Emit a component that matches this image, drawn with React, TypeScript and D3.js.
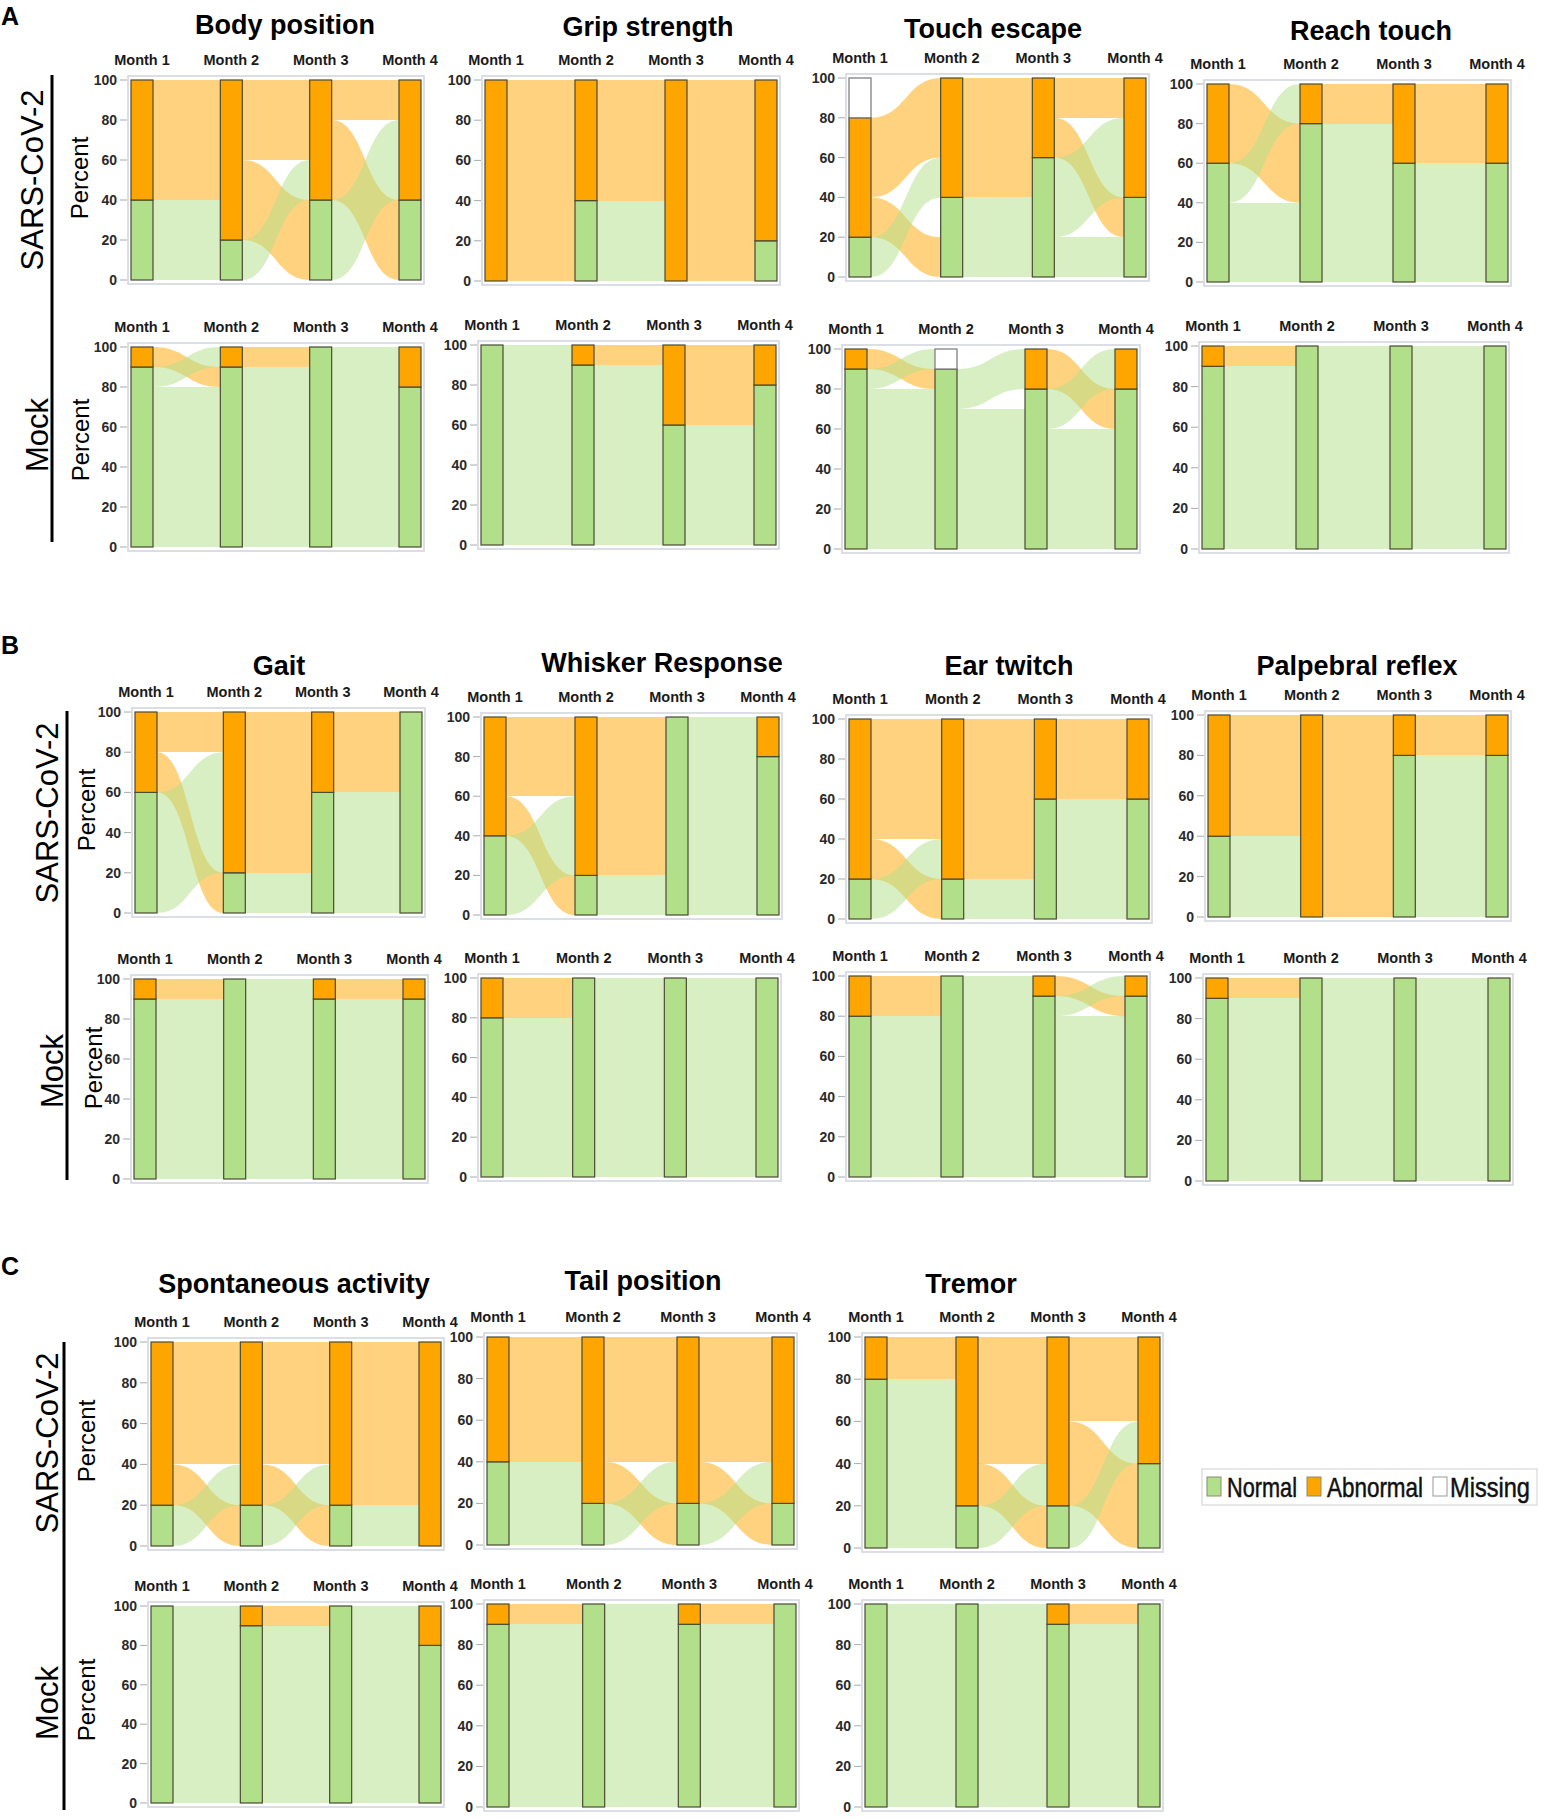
import React from "react";
import * as d3 from "d3";

// categories, bottom to top of each stacked bar
const CATS = ["N", "A", "M"];
const CAT_LABELS = ["Normal", "Abnormal", "Missing"];
const COLORS: Record<string, string> = { N: "#B2DF8A", A: "#FFA500", M: "#FFFFFF" };
const MONTHS = ["Month 1", "Month 2", "Month 3", "Month 4"];
const Y_TICKS = [0, 20, 40, 60, 80, 100];

// transitions month k -> k+1 : [from, to, percent]
// A - SARS-CoV-2
const bodyPositionSars = [
  [["N", "N", 20], ["N", "A", 20], ["A", "A", 60]],
  [["N", "A", 20], ["A", "N", 40], ["A", "A", 40]],
  [["N", "A", 40], ["A", "N", 40], ["A", "A", 20]]
];
const gripStrengthSars = [
  [["A", "N", 40], ["A", "A", 60]],
  [["N", "A", 40], ["A", "A", 60]],
  [["A", "N", 20], ["A", "A", 80]]
];
const touchEscapeSars = [
  [["N", "A", 20], ["A", "N", 20], ["A", "A", 40], ["M", "N", 20]],
  [["N", "N", 40], ["A", "N", 20], ["A", "A", 40]],
  [["N", "N", 20], ["N", "A", 40], ["A", "N", 20], ["A", "A", 20]]
];
const reachTouchSars = [
  [["N", "N", 40], ["N", "A", 20], ["A", "N", 40]],
  [["N", "N", 60], ["N", "A", 20], ["A", "A", 20]],
  [["N", "N", 60], ["A", "A", 40]]
];
// A - Mock
const bodyPositionMock = [
  [["N", "N", 80], ["N", "A", 10], ["A", "N", 10]],
  [["N", "N", 90], ["A", "N", 10]],
  [["N", "N", 80], ["N", "A", 20]]
];
const gripStrengthMock = [
  [["N", "N", 90], ["N", "A", 10]],
  [["N", "N", 60], ["N", "A", 30], ["A", "A", 10]],
  [["N", "N", 60], ["A", "N", 20], ["A", "A", 20]]
];
const touchEscapeMock = [
  [["N", "N", 80], ["N", "M", 10], ["A", "N", 10]],
  [["N", "N", 70], ["N", "A", 20], ["M", "N", 10]],
  [["N", "N", 60], ["N", "A", 20], ["A", "N", 20]]
];
const reachTouchMock = [
  [["N", "N", 90], ["A", "N", 10]],
  [["N", "N", 100]],
  [["N", "N", 100]]
];
// B - SARS-CoV-2
const gaitSars = [
  [["N", "A", 60], ["A", "N", 20], ["A", "A", 20]],
  [["N", "N", 20], ["A", "N", 40], ["A", "A", 40]],
  [["N", "N", 60], ["A", "N", 40]]
];
const whiskerSars = [
  [["N", "A", 40], ["A", "N", 20], ["A", "A", 40]],
  [["N", "N", 20], ["A", "N", 80]],
  [["N", "N", 80], ["N", "A", 20]]
];
const earTwitchSars = [
  [["N", "A", 20], ["A", "N", 20], ["A", "A", 60]],
  [["N", "N", 20], ["A", "N", 40], ["A", "A", 40]],
  [["N", "N", 60], ["A", "A", 40]]
];
const palpebralSars = [
  [["N", "A", 40], ["A", "A", 60]],
  [["A", "N", 80], ["A", "A", 20]],
  [["N", "N", 80], ["A", "A", 20]]
];
// B - Mock
const gaitMock = [
  [["N", "N", 90], ["A", "N", 10]],
  [["N", "N", 90], ["N", "A", 10]],
  [["N", "N", 90], ["A", "A", 10]]
];
const whiskerMock = [
  [["N", "N", 80], ["A", "N", 20]],
  [["N", "N", 100]],
  [["N", "N", 100]]
];
const earTwitchMock = [
  [["N", "N", 80], ["A", "N", 20]],
  [["N", "N", 90], ["N", "A", 10]],
  [["N", "N", 80], ["N", "A", 10], ["A", "N", 10]]
];
const palpebralMock = [
  [["N", "N", 90], ["A", "N", 10]],
  [["N", "N", 100]],
  [["N", "N", 100]]
];
// C - SARS-CoV-2
const spontaneousSars = [
  [["N", "A", 20], ["A", "N", 20], ["A", "A", 60]],
  [["N", "A", 20], ["A", "N", 20], ["A", "A", 60]],
  [["N", "A", 20], ["A", "A", 80]]
];
const tailPositionSars = [
  [["N", "N", 20], ["N", "A", 20], ["A", "A", 60]],
  [["N", "A", 20], ["A", "N", 20], ["A", "A", 60]],
  [["N", "A", 20], ["A", "N", 20], ["A", "A", 60]]
];
const tremorSars = [
  [["N", "N", 20], ["N", "A", 60], ["A", "A", 20]],
  [["N", "A", 20], ["A", "N", 20], ["A", "A", 60]],
  [["N", "A", 20], ["A", "N", 40], ["A", "A", 40]]
];
// C - Mock
const spontaneousMock = [
  [["N", "N", 90], ["N", "A", 10]],
  [["N", "N", 90], ["A", "N", 10]],
  [["N", "N", 80], ["N", "A", 20]]
];
const tailPositionMock = [
  [["N", "N", 90], ["A", "N", 10]],
  [["N", "N", 90], ["N", "A", 10]],
  [["N", "N", 90], ["A", "N", 10]]
];
const tremorMock = [
  [["N", "N", 100]],
  [["N", "N", 90], ["N", "A", 10]],
  [["N", "N", 90], ["A", "N", 10]]
];

// layout: frame x-range, y of 100 and 0, title position
const PANELS: any[] = [
  { title: "Body position", data: bodyPositionSars, x: [128, 424], y: [80, 280], tx: 285, ty: 34 },
  { title: "Grip strength", data: gripStrengthSars, x: [482, 780], y: [80, 281], tx: 648, ty: 36 },
  { title: "Touch escape", data: touchEscapeSars, x: [846, 1149], y: [78, 277], tx: 993, ty: 38 },
  { title: "Reach touch", data: reachTouchSars, x: [1204, 1511], y: [84, 282], tx: 1371, ty: 40 },
  { data: bodyPositionMock, x: [128, 424], y: [347, 547] },
  { data: gripStrengthMock, x: [478, 779], y: [345, 545] },
  { data: touchEscapeMock, x: [842, 1140], y: [349, 549] },
  { data: reachTouchMock, x: [1199, 1509], y: [346, 549] },

  { title: "Gait", data: gaitSars, x: [132, 425], y: [712, 913], tx: 279, ty: 675 },
  { title: "Whisker Response", data: whiskerSars, x: [481, 782], y: [717, 915], tx: 662, ty: 672 },
  { title: "Ear twitch", data: earTwitchSars, x: [846, 1152], y: [719, 919], tx: 1009, ty: 675 },
  { title: "Palpebral reflex", data: palpebralSars, x: [1205, 1511], y: [715, 917], tx: 1357, ty: 675 },
  { data: gaitMock, x: [131, 428], y: [979, 1179] },
  { data: whiskerMock, x: [478, 781], y: [978, 1177] },
  { data: earTwitchMock, x: [846, 1150], y: [976, 1177] },
  { data: palpebralMock, x: [1203, 1513], y: [978, 1181] },

  { title: "Spontaneous activity", data: spontaneousSars, x: [148, 444], y: [1342, 1546], tx: 294, ty: 1293 },
  { title: "Tail position", data: tailPositionSars, x: [484, 797], y: [1337, 1545], tx: 643, ty: 1290 },
  { title: "Tremor", data: tremorSars, x: [862, 1163], y: [1337, 1548], tx: 971, ty: 1293 },
  { data: spontaneousMock, x: [148, 444], y: [1606, 1803] },
  { data: tailPositionMock, x: [484, 799], y: [1604, 1807] },
  { data: tremorMock, x: [862, 1163], y: [1604, 1807] }
];

// group labels: [text, baseline x, center y]
const GROUP_LABELS: [string, number, number][] = [
  ["SARS-CoV-2", 43, 180], ["Mock", 48, 435],
  ["SARS-CoV-2", 58, 813], ["Mock", 63, 1071],
  ["SARS-CoV-2", 58, 1443], ["Mock", 58, 1703]
];
const PERCENT_LABELS: [number, number][] = [
  [88, 178], [89, 440], [95, 810], [102, 1068], [95, 1441], [95, 1700]
];
const GROUP_LINES: [number, number, number][] = [
  [52, 75, 542], [67, 711, 1180], [64, 1342, 1810]
];
const SECTIONS: [string, number][] = [["A", 25], ["B", 654], ["C", 1275]];

const FONT = "'Liberation Sans', Arial, Helvetica, sans-serif";
const BAR_W = 22;

function buildAlluvial(transitions: any[][]) {
  const months: Record<string, number>[] = [];
  transitions.forEach((tr, t) => {
    const m: Record<string, number> = { N: 0, A: 0, M: 0 };
    tr.forEach(([f, , v]: any) => (m[f] += v));
    months[t] = m;
  });
  const last: Record<string, number> = { N: 0, A: 0, M: 0 };
  transitions[transitions.length - 1].forEach(([, to, v]: any) => (last[to] += v));
  months.push(last);

  const stacks = months.map(m => {
    let acc = 0;
    const s: Record<string, [number, number]> = {};
    CATS.forEach(c => {
      s[c] = [acc, acc + m[c]];
      acc += m[c];
    });
    return s;
  });

  const ci = (c: string) => CATS.indexOf(c);
  const bands: any[] = [];
  transitions.forEach((tr, t) => {
    const outCur: Record<string, number> = {};
    const inCur: Record<string, number> = {};
    CATS.forEach(c => {
      outCur[c] = stacks[t][c][0];
      inCur[c] = stacks[t + 1][c][0];
    });
    const src = new Map();
    [...tr]
      .sort((a, b) => ci(a[0]) - ci(b[0]) || ci(a[1]) - ci(b[1]))
      .forEach(f => {
        src.set(f, [outCur[f[0]], outCur[f[0]] + f[2]]);
        outCur[f[0]] += f[2];
      });
    [...tr]
      .sort((a, b) => ci(a[1]) - ci(b[1]) || ci(a[0]) - ci(b[0]))
      .forEach(f => {
        const e = [inCur[f[1]], inCur[f[1]] + f[2]];
        inCur[f[1]] += f[2];
        bands.push({ t, from: f[0], s: src.get(f), e });
      });
  });
  return { stacks, bands };
}

const Panel: React.FC<{ p: any }> = ({ p }) => {
  const [x0, x1] = p.x;
  const [y100, y0] = p.y;
  const yScale = d3.scaleLinear().domain([0, 100]).range([y0, y100]);
  const xScale = d3
    .scalePoint()
    .domain(MONTHS)
    .range([x0 + 3 + BAR_W / 2, x1 - 3 - BAR_W / 2]);
  const { stacks, bands } = buildAlluvial(p.data);

  const bandPath = (b: any) => {
    const xa = xScale(MONTHS[b.t])! + BAR_W / 2;
    const xb = xScale(MONTHS[b.t + 1])! - BAR_W / 2;
    const xm = (xa + xb) / 2;
    const path = d3.path();
    path.moveTo(xa, yScale(b.s[1]));
    path.bezierCurveTo(xm, yScale(b.s[1]), xm, yScale(b.e[1]), xb, yScale(b.e[1]));
    path.lineTo(xb, yScale(b.e[0]));
    path.bezierCurveTo(xm, yScale(b.e[0]), xm, yScale(b.s[0]), xa, yScale(b.s[0]));
    path.closePath();
    return path.toString();
  };
  const isFlat = (b: any) => b.s[0] === b.e[0] && b.s[1] === b.e[1];

  return (
    <g>
      {p.title && (
        <text x={p.tx} y={p.ty} textAnchor="middle" fontSize={27} fontWeight="bold" fontFamily={FONT}>
          {p.title}
        </text>
      )}
      {MONTHS.map(m => (
        <text
          key={m}
          x={xScale(m)}
          y={y100 - 15}
          textAnchor="middle"
          fontSize={14.5}
          fontWeight="bold"
          fill="#1a1a1a"
          fontFamily={FONT}
        >
          {m}
        </text>
      ))}
      <rect x={x0} y={y100 - 4} width={x1 - x0} height={y0 - y100 + 8} fill="#fff" stroke="#d3d6de" strokeWidth={1.6} />
      {Y_TICKS.map(v => (
        <g key={v} transform={`translate(${x0}, ${yScale(v)})`}>
          <line x1={-8} x2={-1} stroke="#aaa" strokeWidth={1} />
          <text x={-11} dy="0.35em" textAnchor="end" fontSize={14} fontWeight="bold" fill="#2a2a2a" fontFamily={FONT}>
            {v}
          </text>
        </g>
      ))}
      {bands.map((b, i) => (
        <path
          key={i}
          d={bandPath(b)}
          fill={COLORS[b.from]}
          fillOpacity={0.5}
          shapeRendering={isFlat(b) ? "crispEdges" : "auto"}
        />
      ))}
      {stacks.map((s, t) =>
        CATS.filter(c => s[c][1] > s[c][0]).map(c => (
          <rect
            key={t + c}
            x={xScale(MONTHS[t])! - BAR_W / 2}
            y={yScale(s[c][1])}
            width={BAR_W}
            height={yScale(s[c][0]) - yScale(s[c][1])}
            fill={COLORS[c]}
            stroke={c === "M" ? "#777" : "#4a4a35"}
            strokeWidth={1.2}
          />
        ))
      )}
    </g>
  );
};

const Legend: React.FC = () => {
  const sw = [1207, 1307, 1433];
  const tx = [1227, 1327, 1450];
  const tw = [70, 96, 80];
  return (
    <g>
      <rect x={1202} y={1469} width={335} height={36} fill="#fff" stroke="#d8d8d8" strokeWidth={1.2} />
      {CATS.map((c, i) => (
        <g key={c}>
          <rect x={sw[i]} y={1477} width={14} height={19} fill={COLORS[c]} stroke={c === "M" ? "#999" : "#8a8a70"} strokeWidth={1} />
          <text
            x={tx[i]}
            y={1497}
            fontSize={28}
            fontFamily={FONT}
            fill="#111"
            stroke="#111"
            strokeWidth={0.5}
            textLength={tw[i]}
            lengthAdjust="spacingAndGlyphs"
          >
            {CAT_LABELS[i]}
          </text>
        </g>
      ))}
    </g>
  );
};

export default function App() {
  return (
    <div style={{ position: "absolute", left: 0, top: 0 }}>
      <svg width={1545} height={1818} style={{ display: "block", background: "#fff" }}>
        {SECTIONS.map(([s, y]) => (
          <text key={s} x={1} y={y} fontSize={25} fontWeight="bold" fontFamily={FONT}>
            {s}
          </text>
        ))}
        {GROUP_LINES.map(([x, ya, yb], i) => (
          <line key={i} x1={x} x2={x} y1={ya} y2={yb} stroke="#000" strokeWidth={3} />
        ))}
        {GROUP_LABELS.map(([t, x, y], i) => (
          <text
            key={i}
            transform={`translate(${x}, ${y}) rotate(-90)`}
            textAnchor="middle"
            fontSize={31}
            fontFamily={FONT}
          >
            {t}
          </text>
        ))}
        {PERCENT_LABELS.map(([x, y], i) => (
          <text
            key={i}
            transform={`translate(${x}, ${y}) rotate(-90)`}
            textAnchor="middle"
            fontSize={24}
            fontFamily={FONT}
          >
            Percent
          </text>
        ))}
        {PANELS.map((p, i) => (
          <Panel key={i} p={p} />
        ))}
        <Legend />
      </svg>
    </div>
  );
}
